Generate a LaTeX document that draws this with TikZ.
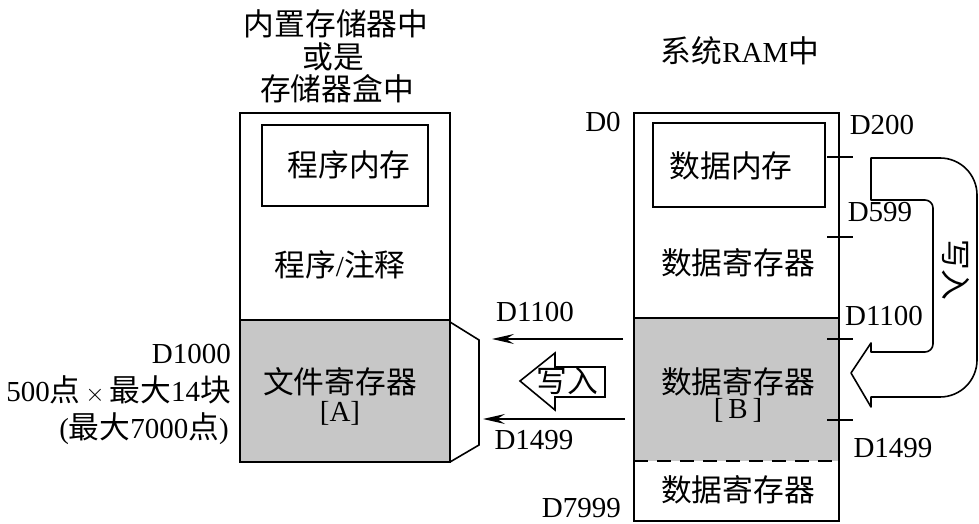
\documentclass[tikz,border=0pt]{standalone}
\usepackage{fontspec}
\setmainfont{Liberation Serif}
\newfontfamily\cjk[Scale=1.06]{Noto Sans CJK SC}
\usetikzlibrary{arrows.meta}
\tikzset{
  box/.style={draw,line width=1.6pt},
  lbl/.style={font=\fontsize{29}{31}\selectfont,inner sep=0pt},
  arr/.style={line width=1.6pt,-{Stealth[length=22pt,width=10pt,inset=8pt]}},
  tick/.style={line width=1.6pt},
}
\begin{document}
\begin{tikzpicture}[x=1pt,y=1pt]
\useasboundingbox (0,0) rectangle (979,524);
% ---- left box
\fill[black!22] (240,62) rectangle (450,204);
\draw[box] (240,62) rectangle (450,411);
\draw[box] (240,204) -- (450,204);
\draw[box] (262,318) rectangle (428,399);
\draw[box] (450,202) -- (479,184) -- (479,79) -- (450,62);
% ---- right box
\fill[black!22] (634,63) rectangle (839,206);
\draw[box] (634,3) rectangle (839,411);
\draw[box] (634,206) -- (839,206);
\draw[box,dashed,dash pattern=on 14pt off 9pt] (634,63) -- (839,63);
\draw[box] (653,317) rectangle (825,401);
% ticks
\coordinate (t1a) at (827,367); \coordinate (t1b) at (853,367);
\coordinate (t2a) at (827,287); \coordinate (t2b) at (853,287);
\coordinate (t3a) at (827,185); \coordinate (t3b) at (853,185);
\coordinate (t4a) at (827,104); \coordinate (t4b) at (853,104);
\draw[tick] (t1a) -- (t1b);
\draw[tick] (t2a) -- (t2b);
\draw[tick] (t3a) -- (t3b);
\draw[tick] (t4a) -- (t4b);
% ---- arrows between boxes
\coordinate (a1s) at (623,185); \coordinate (a1e) at (492,185);
\coordinate (a2s) at (625,105); \coordinate (a2e) at (483,105);
\draw[arr] (a1s) -- (a1e);
\draw[arr] (a2s) -- (a2e);
% hollow arrow
\draw[line width=1.6pt,fill=white] (520,143) -- (555,171) -- (555,157) -- (605,157) -- (605,127) -- (555,127) -- (555,114) -- cycle;
\node[lbl] (w1) at (567,143) {\cjk 写入};
% curved hollow arrow
\draw[line width=1.6pt,fill=white,line join=round]
  (871,366) -- (940,366) arc[start angle=90,end angle=0,radius=37]
  -- (977,164) arc[start angle=0,end angle=-90,radius=37]
  -- (871,127) -- (871,117) -- (851,151) -- (871,181) -- (871,172)
  -- (925,172) arc[start angle=-90,end angle=0,radius=8]
  -- (933,316) arc[start angle=0,end angle=90,radius=8]
  -- (871,324) -- cycle;
\node[lbl,rotate=-90] (w2) at (956,254) {\cjk 写入};
% ---- titles
\node[lbl] (h1) at (336,500) {\cjk 内置存储器中};
\node[lbl] (h2) at (333,467) {\cjk 或是};
\node[lbl] (h3) at (337,435) {\cjk 存储器盒中};
\node[lbl] (h4) at (740,473) {{\cjk 系统}RAM{\cjk 中}};
% ---- box texts
\node[lbl] (p1) at (349,359) {\cjk 程序内存};
\node[lbl] (p2) at (340,259) {{\cjk 程序}/{\cjk 注释}};
\node[lbl] (p3) at (340,142) {\cjk 文件寄存器};
\node[lbl] (p4) at (340,111) {[A]};
\node[lbl] (q1) at (731,358) {\cjk 数据内存};
\node[lbl] (q2) at (738,261) {\cjk 数据寄存器};
\node[lbl] (q3) at (738,142) {\cjk 数据寄存器};
\node[lbl] (q4) at (738,114) {[\,B\,]};
\node[lbl] (q5) at (738,34) {\cjk 数据寄存器};
% ---- address labels
\node[lbl] (d0) at (603,402) {D0};
\node[lbl] (d200) at (882,399) {D200};
\node[lbl] (d599) at (880,312) {D599};
\node[lbl] (d1100r) at (884,208) {D1100};
\node[lbl] (d1499r) at (893,76) {D1499};
\node[lbl,anchor=east] (d7999) at (621,16) {D7999};
\node[lbl] (d1100l) at (535,212) {D1100};
\node[lbl] (d1499l) at (534,84) {D1499};
\node[lbl,anchor=east] (d1000) at (231,170) {D1000};
\node[lbl,anchor=east] (n500) at (231,134) {500{\cjk 点}\,$\times$\,{\cjk 最大}14{\cjk 块}};
\node[lbl,anchor=east] (n7000) at (229,95) {({\cjk 最大}7000{\cjk 点})};
\end{tikzpicture}
\end{document}
